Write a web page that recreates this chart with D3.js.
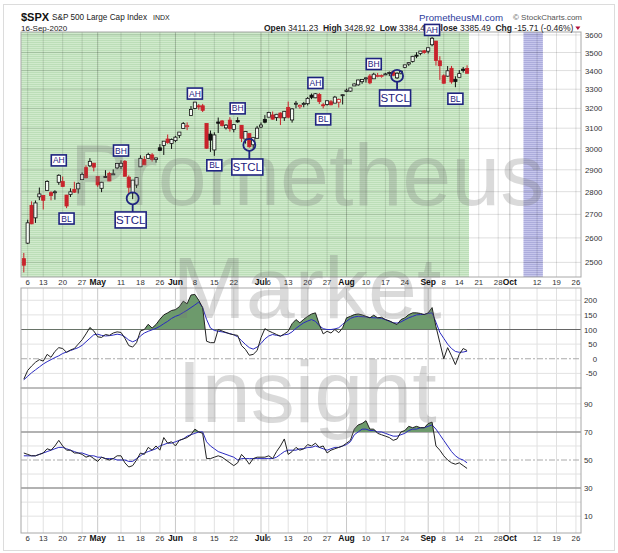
<!DOCTYPE html>
<html><head><meta charset="utf-8">
<script src="https://cdn.jsdelivr.net/npm/d3@7"></script>
<style>body{margin:0;background:#fff}svg{display:block}text{font-family:"Liberation Sans",Arial,sans-serif}</style>
</head><body><svg id="c" width="618" height="553"></svg>
<script>
// ---------- DATA ----------
const dates = ["2020-04-03","2020-04-06","2020-04-07","2020-04-08","2020-04-09","2020-04-13","2020-04-14","2020-04-15","2020-04-16","2020-04-17","2020-04-20","2020-04-21","2020-04-22","2020-04-23","2020-04-24","2020-04-27","2020-04-28","2020-04-29","2020-04-30",
"2020-05-01","2020-05-04","2020-05-05","2020-05-06","2020-05-07","2020-05-08","2020-05-11","2020-05-12","2020-05-13","2020-05-14","2020-05-15","2020-05-18","2020-05-19","2020-05-20","2020-05-21","2020-05-22","2020-05-26","2020-05-27","2020-05-28","2020-05-29",
"2020-06-01","2020-06-02","2020-06-03","2020-06-04","2020-06-05","2020-06-08","2020-06-09","2020-06-10","2020-06-11","2020-06-12","2020-06-15","2020-06-16","2020-06-17","2020-06-18","2020-06-19","2020-06-22","2020-06-23","2020-06-24","2020-06-25","2020-06-26","2020-06-29","2020-06-30",
"2020-07-01","2020-07-02","2020-07-06","2020-07-07","2020-07-08","2020-07-09","2020-07-10","2020-07-13","2020-07-14","2020-07-15","2020-07-16","2020-07-17","2020-07-20","2020-07-21","2020-07-22","2020-07-23","2020-07-24","2020-07-27","2020-07-28","2020-07-29","2020-07-30","2020-07-31",
"2020-08-03","2020-08-04","2020-08-05","2020-08-06","2020-08-07","2020-08-10","2020-08-11","2020-08-12","2020-08-13","2020-08-14","2020-08-17","2020-08-18","2020-08-19","2020-08-20","2020-08-21","2020-08-24","2020-08-25","2020-08-26","2020-08-27","2020-08-28","2020-08-31",
"2020-09-01","2020-09-02","2020-09-03","2020-09-04","2020-09-08","2020-09-09","2020-09-10","2020-09-11","2020-09-14","2020-09-15","2020-09-16"];

const futureDates = ["2020-09-17","2020-09-18","2020-09-21","2020-09-22","2020-09-23","2020-09-24","2020-09-25","2020-09-28","2020-09-29","2020-09-30","2020-10-01","2020-10-02",
"2020-10-05","2020-10-06","2020-10-07","2020-10-08","2020-10-09","2020-10-12","2020-10-13","2020-10-14","2020-10-15","2020-10-16","2020-10-19","2020-10-20","2020-10-21","2020-10-22","2020-10-23","2020-10-26","2020-10-27","2020-10-28","2020-10-29","2020-10-30"];

const prevClose = 2526.90;
const opens = [2514.92,2578.28,2738.65,2685.00,2776.99,2782.46,2805.10,2795.64,2799.34,2842.43,2845.62,2784.81,2787.89,2810.42,2812.64,2854.65,2909.96,2918.46,2930.91,
2869.09,2815.01,2868.88,2883.14,2878.26,2908.83,2915.46,2939.50,2865.86,2794.54,2829.95,2913.86,2948.59,2953.63,2969.95,2948.05,3004.08,3015.65,3046.61,3025.17,
3038.78,3064.78,3098.90,3111.56,3163.84,3199.92,3213.32,3213.42,3123.53,3071.04,2993.76,3131.00,3136.13,3101.64,3140.29,3094.42,3138.70,3114.40,3046.60,3073.20,3018.59,3050.17,
3105.92,3143.64,3155.29,3166.44,3153.07,3176.17,3152.47,3205.08,3141.11,3225.98,3208.36,3224.21,3224.29,3268.52,3254.86,3271.64,3218.58,3219.84,3234.27,3227.22,3231.76,3270.45,
3288.26,3289.92,3317.37,3323.17,3340.05,3356.04,3370.34,3355.46,3372.95,3368.66,3380.86,3387.04,3392.51,3360.48,3386.01,3418.09,3435.95,3449.97,3485.14,3494.69,3509.73,
3507.44,3543.76,3564.74,3453.60,3371.88,3369.82,3412.56,3352.70,3363.56,3407.73,3411.23];
const highs = [2538.18,2676.85,2756.89,2760.75,2818.57,2782.46,2851.85,2801.88,2806.51,2879.22,2868.98,2785.54,2815.10,2844.90,2842.71,2887.72,2921.15,2954.86,2930.91,
2869.09,2844.24,2898.23,2891.11,2901.92,2932.16,2944.25,2945.82,2874.14,2852.80,2865.01,2968.09,2964.21,2980.29,2978.50,2956.76,3021.72,3036.25,3068.67,3049.17,
3062.18,3081.07,3130.94,3128.91,3211.72,3233.13,3222.71,3223.27,3123.53,3088.42,3079.76,3153.45,3141.16,3120.00,3155.53,3120.92,3154.90,3115.01,3086.25,3073.73,3053.89,3111.51,
3128.44,3165.81,3182.59,3184.15,3171.80,3179.78,3186.82,3235.32,3200.95,3238.28,3220.39,3233.52,3258.61,3277.29,3279.32,3279.99,3227.26,3241.43,3243.72,3264.74,3250.92,3272.17,
3302.73,3306.84,3330.77,3351.03,3352.54,3363.29,3381.01,3387.89,3387.24,3378.51,3387.59,3395.06,3399.54,3390.80,3399.96,3432.09,3444.21,3481.07,3501.38,3509.23,3514.77,
3528.03,3588.11,3564.85,3479.15,3379.97,3424.77,3425.55,3368.95,3402.93,3419.48,3428.92];
const lows = [2459.96,2574.57,2657.67,2663.30,2762.36,2721.17,2805.10,2761.54,2764.32,2830.88,2820.43,2727.10,2775.95,2794.26,2791.76,2852.89,2860.71,2912.16,2892.47,
2821.61,2797.85,2863.55,2847.65,2876.48,2902.88,2903.44,2869.59,2793.15,2766.64,2816.78,2913.86,2922.35,2953.63,2938.57,2933.59,2988.17,2969.75,3023.40,2998.61,
3031.54,3051.64,3098.90,3090.41,3163.84,3196.00,3193.11,3181.49,2999.49,2984.47,2965.66,3076.06,3108.03,3093.51,3083.11,3079.39,3127.12,3032.13,3024.01,3004.63,2999.74,3047.83,
3101.17,3124.52,3155.29,3142.93,3136.53,3115.70,3136.22,3149.43,3127.66,3200.76,3198.59,3205.65,3215.16,3247.77,3253.10,3222.66,3200.05,3214.25,3216.17,3227.22,3204.13,3220.26,
3284.53,3286.37,3317.37,3318.14,3328.72,3335.44,3326.44,3355.46,3363.35,3361.64,3379.22,3370.15,3369.66,3354.69,3379.31,3413.13,3425.84,3444.15,3468.35,3484.32,3493.25,
3494.60,3535.23,3427.41,3349.63,3329.27,3366.84,3329.25,3310.47,3363.56,3389.25,3384.45];
const closes = [2488.65,2663.68,2659.41,2749.98,2789.82,2761.63,2846.06,2783.36,2799.55,2874.56,2823.16,2736.56,2799.31,2797.80,2836.74,2878.48,2863.39,2939.51,2912.43,
2830.71,2842.74,2868.44,2848.42,2881.19,2929.80,2930.32,2870.12,2820.00,2852.50,2863.70,2953.91,2922.94,2971.61,2948.51,2955.45,2991.77,3036.13,3029.73,3044.31,
3055.73,3080.82,3122.87,3112.35,3193.93,3232.39,3207.18,3190.14,3002.10,3041.31,3066.59,3124.74,3113.49,3115.34,3097.74,3117.86,3131.29,3050.33,3083.76,3009.05,3053.24,3100.29,
3115.86,3130.01,3179.72,3145.32,3169.94,3152.05,3185.04,3155.22,3197.52,3226.56,3215.57,3224.73,3251.84,3257.30,3276.02,3235.66,3215.63,3239.41,3218.44,3258.44,3246.22,3271.12,
3294.61,3306.51,3327.77,3349.16,3351.28,3360.47,3333.69,3380.35,3373.43,3372.85,3381.99,3389.78,3374.85,3385.51,3397.16,3431.28,3443.62,3478.73,3484.55,3508.01,3500.31,
3526.65,3580.84,3455.06,3426.96,3331.84,3398.96,3339.19,3340.97,3383.54,3401.20,3385.49];

// CCI (black) and its signal (blue)
const cci = [-70,-40,-25,-12,-3,-8,15,5,25,38,
35,22,30,35,50,65,85,107,95,75,
73,83,80,88,92,90,70,45,40,55,
95,100,118,105,117,135,150,157,165,168,
178,197,188,218,220,200,175,60,55,55,
100,95,90,85,82,80,45,32,12,15,
28,72,103,95,89,83,77,85,94,120,
134,123,135,145,153,157,117,85,94,88,
100,89,106,140,145,151,153,150,145,140,
149,140,142,134,130,123,117,134,140,151,
157,157,155,151,157,175,110,55,0,38,
10,-20,15,35,28];
const cciSignal = [-72,-60,-48,-38,-28,-18,-10,-3,4,10,
18,23,28,33,38,46,58,70,82,84,
80,78,79,81,84,82,75,64,58,64,
78,88,94,99,104,111,120,128,138,145,
150,158,166,175,184,194,175,135,105,97,
94,92,89,86,82,75,62,49,38,33,
40,52,68,78,83,80,78,82,84,92,
104,114,123,129,134,128,113,103,100,100,
102,106,118,128,138,143,145,144,143,141,
140,140,138,134,128,123,122,126,133,140,
145,150,151,152,155,157,125,90,70,50,
35,25,22,23,26];
// RSI (black) and its signal (blue)
const rsi = [55,54,53,53,54,55,58,57,60,64,
60,57,57,55,55,54,52,53,51,49,
52,51,50,51,53,53,48,45,46,50,
55,54,59,57,60,57,66,62,63,60,
64,65,66,68,72,70,69,51,51,52,
53,52,50,48,46,48,54,51,47,51,
52,52,52,53,51,56,60,65,54,56,
59,57,58,61,60,62,59,60,55,57,
58,59,60,62,64,72,75,76,78,72,
72,69,68,67,66,64,65,70,71,74,
73,74,73,73,76,77,60,57,53,50,
48,47,48,46,44];
const rsiSignal = [53,53,53,53,54,55,56,57,58,59,
59,58,57,56,55,55,54,53,53,52,
52,51,51,51,50,50,50,49,49,51,
53,55,56,57,58,60,61,62,62,63,
64,65,67,68,69,70,70,63,60,58,
56,55,54,53,52,50,51,51,51,51,
51,51,51,51,51,52,54,56,57,57,
57,58,58,59,59,60,59,58,57,58,
59,59,60,61,63,68,70,72,72,71,
71,70,70,69,68,67,67,68,69,71,
72,72,73,73,74,75,72,68,64,60,
56,53,51,50,48];

const tickDates = ["2020-04-06","2020-04-13","2020-04-20","2020-04-27","2020-05-01","2020-05-11","2020-05-18","2020-05-26","2020-06-01","2020-06-08","2020-06-15","2020-06-22","2020-07-01","2020-07-06","2020-07-13","2020-07-20","2020-07-27","2020-08-03","2020-08-10","2020-08-17","2020-08-24","2020-09-01","2020-09-08","2020-09-14","2020-09-21","2020-09-28","2020-10-01","2020-10-12","2020-10-19","2020-10-26"];
const tickLabels = ["6","13","20","27","May","11","18","26","Jun","8","15","22","Jul","6","13","20","27","Aug","10","17","24","Sep","8","14","21","28","Oct","12","19","26"];
const priceTicks = [2500,2600,2700,2800,2900,3000,3100,3200,3300,3400,3500,3600];
const cciTicks = [200,150,100,50,0,-50];
const cciGrid = [200,150,50,-50];
const rsiTicks = [90,70,50,30,10];
const rsiGrid = [90,80,60,40,20,10];

const greenStart = "2020-04-03", greenEnd = "2020-09-16";
const purpleStart = "2020-10-07", purpleEnd = "2020-10-13";

const annLabels = ["AH","BL","BH","AH","BL","BH","AH","BL","BH","AH","BL"];
const annDates = ["2020-04-17","2020-04-21","2020-05-11","2020-06-08","2020-06-15","2020-06-23","2020-07-22","2020-07-24","2020-08-12","2020-09-02","2020-09-11"];
const annPrices = [2944,2682,2991,3277,2921,3200,3333,3144,3436,3629,3250];
const stclDates = ["2020-05-14","2020-06-26","2020-08-20"];
const stclCirclePrices = [2770,3018,3371];
const stclBoxPrices = [2676,2913,3254];

// ---------- LAYOUT ----------
const svg = d3.select("#c");
const L = 21, R = 581;
const mainTop = 32, mainBot = 277, cciTop = 288, cciBot = 388, rsiTop = 388, rsiBot = 533;
const allDates = dates.concat(futureDates);
const idx = new Map(allDates.map((d, i) => [d, i]));
const x = d3.scaleLinear().domain([-0.72, 143.3]).range([L, R]);
const xd = d => x(idx.get(d));
const yP = d3.scaleLog().domain([2442, 3617]).range([mainBot, mainTop]);
const yC = d3.scaleLinear().domain([-100, 242]).range([cciBot, cciTop]);
const yR = d3.scaleLinear().domain([-2, 101.3]).range([rsiBot, rsiTop]);

const defs = svg.append("defs");
function stripe(id, c1, c2) {
  const p = defs.append("pattern").attr("id", id).attr("width", 4).attr("height", 2).attr("patternUnits", "userSpaceOnUse");
  p.append("rect").attr("width", 4).attr("height", 2).attr("fill", c1);
  p.append("rect").attr("width", 4).attr("height", 1).attr("fill", c2);
}
stripe("gs", "#d0eacc", "#bcdeb8");
stripe("ps", "#c6c6ec", "#acacdc");
defs.append("clipPath").attr("id", "mainClip").append("rect").attr("x", L).attr("y", mainTop).attr("width", R - L).attr("height", mainBot - mainTop);
defs.append("clipPath").attr("id", "cciUp").append("rect").attr("x", L).attr("y", cciTop).attr("width", R - L).attr("height", yC(100) - cciTop);
defs.append("clipPath").attr("id", "rsiUp").append("rect").attr("x", L).attr("y", rsiTop).attr("width", R - L).attr("height", yR(70) - rsiTop);

// outer frame
svg.append("rect").attr("x", 3.5).attr("y", 4.5).attr("width", 611).attr("height", 546).attr("fill", "#fff").attr("stroke", "#dcdcdc");

// panel backgrounds
[[mainTop, mainBot], [cciTop, cciBot], [rsiTop, rsiBot]].forEach(([t, b]) =>
  svg.append("rect").attr("x", L).attr("y", t).attr("width", R - L).attr("height", b - t).attr("fill", "#fff"));

// shaded bands in main panel
const stepW = x(1) - x(0);
svg.append("rect").attr("x", L).attr("y", mainTop).attr("width", xd(greenEnd) + stepW / 2 - L)
  .attr("height", mainBot - mainTop).attr("fill", "url(#gs)");
svg.append("rect").attr("x", xd(purpleStart) - stepW / 2).attr("y", mainTop)
  .attr("width", xd(purpleEnd) - xd(purpleStart) + stepW).attr("height", mainBot - mainTop).attr("fill", "url(#ps)");

// vertical gridlines in all panels
const g = svg.append("g");
tickDates.forEach((d, k) => {
  const isMonth = isNaN(+tickLabels[k]);
  [[mainTop, mainBot], [cciTop, cciBot], [rsiTop, rsiBot]].forEach(([t, b]) =>
    g.append("line").attr("x1", xd(d)).attr("x2", xd(d)).attr("y1", t).attr("y2", b)
      .attr("stroke", isMonth ? "rgba(0,0,0,0.22)" : "rgba(0,0,0,0.12)").attr("stroke-width", 1));
});
// horizontal gridlines
priceTicks.forEach(v => g.append("line").attr("x1", L).attr("x2", R).attr("y1", yP(v)).attr("y2", yP(v)).attr("stroke", "rgba(0,0,0,0.13)"));
cciGrid.forEach(v => g.append("line").attr("x1", L).attr("x2", R).attr("y1", yC(v)).attr("y2", yC(v)).attr("stroke", "#e2e2e2"));
rsiGrid.forEach(v => g.append("line").attr("x1", L).attr("x2", R).attr("y1", yR(v)).attr("y2", yR(v)).attr("stroke", "#e2e2e2"));
// reference lines
g.append("line").attr("x1", L).attr("x2", R).attr("y1", yC(100)).attr("y2", yC(100)).attr("stroke", "#666").attr("stroke-width", 1.2);
g.append("line").attr("x1", L).attr("x2", R).attr("y1", yC(0)).attr("y2", yC(0)).attr("stroke", "#aaa").attr("stroke-dasharray", "6,2,2,2");
g.append("line").attr("x1", L).attr("x2", R).attr("y1", yR(70)).attr("y2", yR(70)).attr("stroke", "#999").attr("stroke-width", 1.5);
g.append("line").attr("x1", L).attr("x2", R).attr("y1", yR(30)).attr("y2", yR(30)).attr("stroke", "#999").attr("stroke-width", 1.5);
g.append("line").attr("x1", L).attr("x2", R).attr("y1", yR(50)).attr("y2", yR(50)).attr("stroke", "#aaa").attr("stroke-dasharray", "6,2,2,2");

// ---------- CANDLES ----------
const candles = dates.map((d, i) => ({ d, o: opens[i], h: highs[i], l: lows[i], c: closes[i], pc: i ? closes[i - 1] : prevClose }));
const cg = svg.append("g").attr("clip-path", "url(#mainClip)");
const red = "#c8232b";
candles.forEach(k => {
  const col = k.c >= k.pc ? "#111" : red;
  const hollow = k.c > k.o;
  const cx = xd(k.d);
  cg.append("line").attr("x1", cx).attr("x2", cx).attr("y1", yP(k.h)).attr("y2", yP(k.l)).attr("stroke", col).attr("stroke-width", 1);
  const top = yP(Math.max(k.o, k.c)), bot = yP(Math.min(k.o, k.c));
  cg.append("rect").attr("x", cx - 1.6).attr("y", top).attr("width", 3.2).attr("height", Math.max(1, bot - top))
    .attr("fill", hollow ? "#f4faf3" : col).attr("stroke", col).attr("stroke-width", 0.8);
});

// ---------- INDICATORS ----------
function indicator(vals, sig, yS, level, clipId) {
  const line = d3.line().x((v, i) => xd(dates[i])).y(v => yS(v));
  const area = d3.area().x((v, i) => xd(dates[i])).y0(yS(level)).y1(v => yS(v));
  svg.append("path").datum(vals).attr("d", area).attr("fill", "#6d9a6c").attr("clip-path", `url(#${clipId})`);
  svg.append("path").datum(sig).attr("d", line).attr("fill", "none").attr("stroke", "#2a2ac0").attr("stroke-width", 1);
  svg.append("path").datum(vals).attr("d", line).attr("fill", "none").attr("stroke", "#222").attr("stroke-width", 1);
}
indicator(cci, cciSignal, yC, 100, "cciUp");
indicator(rsi, rsiSignal, yR, 70, "rsiUp");

// panel borders
[[mainTop, mainBot], [cciTop, cciBot], [rsiTop, rsiBot]].forEach(([t, b]) =>
  svg.append("rect").attr("x", L).attr("y", t).attr("width", R - L).attr("height", b - t).attr("fill", "none").attr("stroke", "#a8a8a8"));

// ---------- WATERMARK ----------
const wm = svg.append("g").attr("fill", "#777").attr("fill-opacity", 0.27).attr("text-anchor", "middle").attr("font-size", 88);
[["Prometheus", 205], ["Market", 318], ["Insight", 422]].forEach(([t, y]) =>
  wm.append("text").attr("x", 307).attr("y", y).text(t));

// ---------- AXES ----------
const axG = svg.append("g").attr("font-size", 7.8).attr("fill", "#333");
[284.5, 541].forEach(yy => {
  tickDates.forEach((d, k) => {
    const isMonth = isNaN(+tickLabels[k]);
    axG.append("text").attr("x", xd(d)).attr("y", yy).attr("text-anchor", "middle")
      .attr("font-weight", isMonth ? "bold" : "normal").attr("fill", isMonth ? "#111" : "#333")
      .attr("font-size", isMonth ? 8.5 : 7.8).text(tickLabels[k]);
  });
});
priceTicks.forEach(v => axG.append("text").attr("x", 585).attr("y", yP(v) + 3).text(v));
cciTicks.forEach(v => axG.append("text").attr("x", 597).attr("y", yC(v) + 3).attr("text-anchor", "end").text(v));
rsiTicks.forEach(v => axG.append("text").attr("x", 584).attr("y", yR(v) + 3).text(v));

// ---------- HEADER ----------
svg.append("text").attr("x", 21).attr("y", 21).attr("font-size", 11).attr("font-weight", "bold").attr("fill", "#111").text("$SPX");
svg.append("text").attr("x", 52).attr("y", 20).attr("font-size", 8.2).attr("fill", "#222").text("S&P 500 Large Cap Index");
svg.append("text").attr("x", 153).attr("y", 20).attr("font-size", 7).attr("fill", "#222").text("INDX");
svg.append("text").attr("x", 21).attr("y", 30.5).attr("font-size", 8).attr("fill", "#222").text("16-Sep-2020");
svg.append("text").attr("x", 419).attr("y", 21).attr("font-size", 9.7).attr("fill", "#2c3a9c").text("PrometheusMI.com");
svg.append("text").attr("x", 513).attr("y", 20).attr("font-size", 8).attr("fill", "#555").text("\u00a9 StockCharts.com");
const q = svg.append("text").attr("x", 264).attr("y", 30.5).attr("font-size", 8.5).attr("fill", "#222").attr("xml:space", "preserve");
const last = candles[candles.length - 1];
const chg = last.c - last.pc;
[["Open ", true], [last.o.toFixed(2) + "  ", false], ["High ", true], [last.h.toFixed(2) + "  ", false],
 ["Low ", true], [last.l.toFixed(2) + "  ", false], ["Close ", true], [last.c.toFixed(2) + "  ", false],
 ["Chg ", true], [chg.toFixed(2) + " (" + (chg / last.pc * 100).toFixed(2) + "%)", false]]
  .forEach(([t, b]) => q.append("tspan").attr("font-weight", b ? "bold" : "normal").text(t));
const qEnd = 264 + q.node().getComputedTextLength();
svg.append("path").attr("d", `M${qEnd + 2},26.5 L${qEnd + 7},26.5 L${qEnd + 4.5},30 Z`).attr("fill", "#b0103a");

// ---------- ANNOTATIONS (on top of everything, as in the original) ----------
const navy = "#1e237f";
const ag = svg.append("g");
annLabels.forEach((t, k) => {
  const cx = xd(annDates[k]), cy = yP(annPrices[k]);
  ag.append("rect").attr("x", cx - 7.5).attr("y", cy - 5.5).attr("width", 15).attr("height", 11)
    .attr("fill", "#fff").attr("stroke", navy).attr("stroke-width", 1.6);
  ag.append("text").attr("x", cx).attr("y", cy + 3).attr("text-anchor", "middle").attr("font-size", 8.5)
    .attr("fill", navy).text(t);
});
stclDates.forEach((d, k) => {
  const cx = xd(d), cy = yP(stclCirclePrices[k]), by = yP(stclBoxPrices[k]);
  ag.append("line").attr("x1", cx).attr("x2", cx).attr("y1", cy + 6).attr("y2", by - 8).attr("stroke", navy).attr("stroke-width", 1.8);
  ag.append("circle").attr("cx", cx).attr("cy", cy).attr("r", 6).attr("fill", "none").attr("stroke", navy).attr("stroke-width", 1.8);
  ag.append("rect").attr("x", cx - 17.5).attr("y", by - 8).attr("width", 31).attr("height", 16)
    .attr("fill", "#fff").attr("stroke", navy).attr("stroke-width", 1.6);
  ag.append("text").attr("x", cx - 2).attr("y", by + 4).attr("text-anchor", "middle").attr("font-size", 11.5)
    .attr("fill", navy).text("STCL");
});
</script></body></html>
